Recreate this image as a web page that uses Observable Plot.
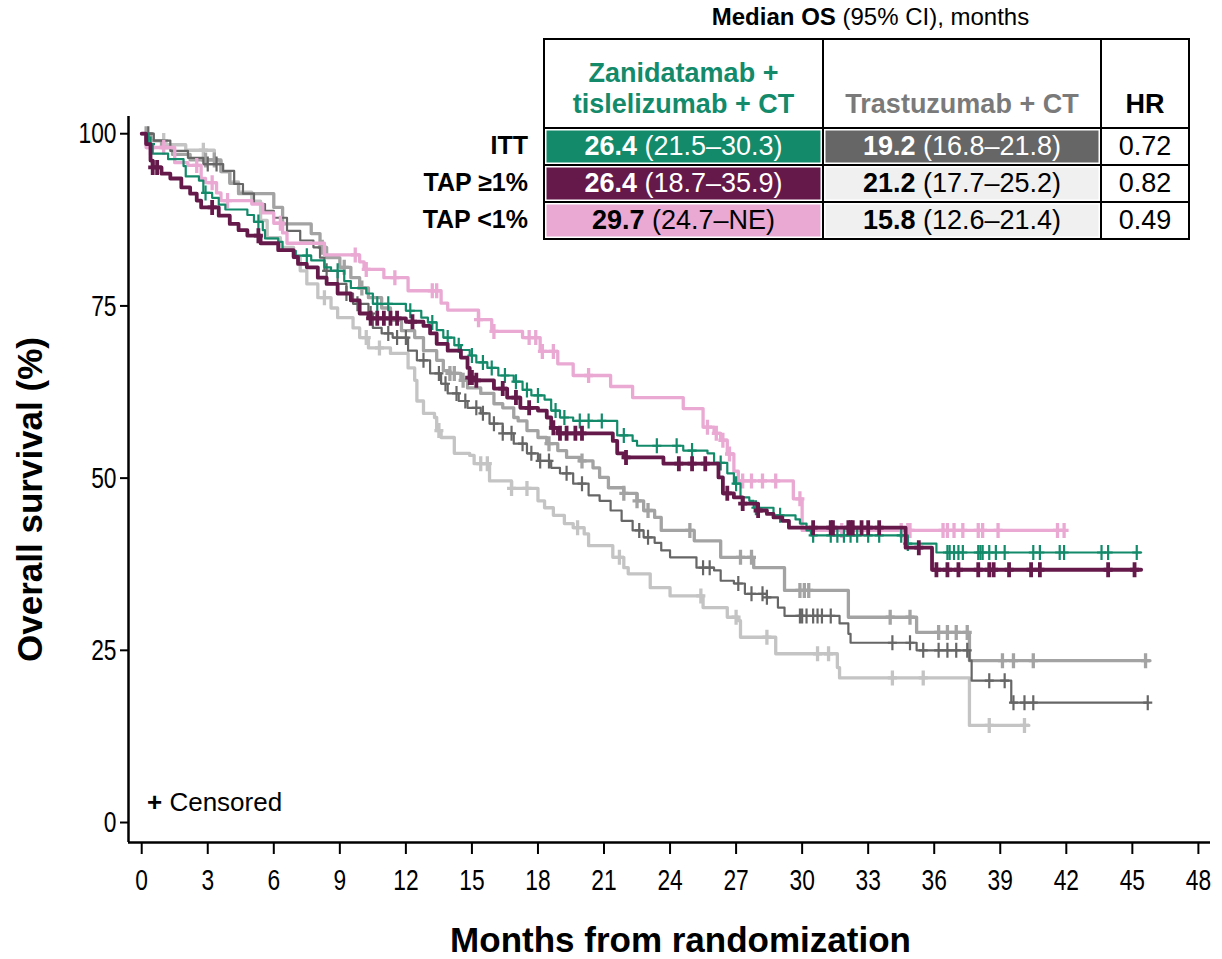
<!DOCTYPE html>
<html><head><meta charset="utf-8">
<script src="https://cdn.jsdelivr.net/npm/d3@7"></script>
<script src="https://cdn.jsdelivr.net/npm/@observablehq/plot@0.6"></script>
<style>
body{margin:0;background:#fff;}
#wrap{position:relative;width:1222px;height:959px;font-family:"Liberation Sans",Arial,sans-serif;color:#000;}
#wrap svg{position:absolute;left:0;top:0;}
.ov{position:absolute;white-space:nowrap;}
table.os{position:absolute;left:543px;top:38px;border-collapse:collapse;font-size:27px;}
table.os td{border:2px solid #000;text-align:center;padding:0;}
table.os td.c{box-shadow:inset 0 0 0 1.5px #fff;}
.rl{position:absolute;right:calc(1222px - 528px);font-weight:bold;font-size:25px;line-height:37px;}
</style></head><body><div id="wrap"></div>
<script>
// ---------- data (months, overall survival %) ----------
const zanITT = [[0,100],[0.3,98.5],[0.5,97.1],[1.2,96.3],[1.9,95.3],[2.0,93.8],[2.6,93.2],[2.8,91.4],[3.2,90.7],[3.5,89.7],[3.8,89.0],[4.8,88.2],[5.1,87.2],[5.5,86.0],[5.6,84.8],[6.2,84.3],[6.4,83.0],[7.0,82.3],[7.7,81.6],[8.3,80.6],[8.6,80.1],[9.2,78.6],[9.5,77.6],[10.2,76.8],[10.5,75.3],[12.0,74.3],[12.7,73.3],[13.0,72.6],[13.4,71.5],[13.7,70.4],[14.2,69.3],[14.5,68.6],[14.9,67.8],[15.2,66.8],[15.7,66.0],[16.2,64.9],[16.9,64.0],[17.3,62.8],[17.7,62.0],[18.3,61.4],[18.6,59.8],[19.0,58.8],[19.6,58.3],[21.6,56.2],[22.3,55.4],[22.5,54.7],[24.6,54.0],[25.7,53.6],[26.0,52.2],[26.6,50.7],[26.9,49.2],[27.2,47.2],[27.6,46.7],[27.8,45.7],[28.7,44.6],[29.7,44.0],[29.9,43.4],[30.2,42.4],[30.4,41.7],[34.8,40.5],[36.1,39.2],[45.4,39.2]];
const zanITT_c = [0.4,2.9,5.3,7.5,8.9,10.7,11.2,12.2,13.2,13.9,14.4,15.0,15.5,15.9,16.5,17.0,17.5,18.0,18.8,19.2,19.9,20.3,20.9,21.9,23.4,24.3,25.0,26.3,27.0,27.9,29.0,30.5,31.3,31.6,31.9,32.2,32.5,33.0,33.5,34.5,34.8,36.6,36.7,36.9,37.1,37.3,38.0,38.1,38.2,38.5,38.8,39.2,40.5,40.8,41.7,41.9,43.6,43.9,45.2];

const zanTAP1 = [[0,100],[0.2,98.5],[0.4,96.1],[0.5,95.1],[0.9,94.2],[1.3,93.5],[1.8,92.2],[2.2,91.3],[2.5,90.3],[2.7,89.3],[3.5,88.1],[4.0,86.9],[4.4,86.0],[4.8,85.2],[5.4,84.1],[6.2,83.1],[6.9,82.1],[7.1,81.1],[7.5,80.6],[8.0,79.1],[8.4,78.2],[8.9,76.8],[9.5,75.8],[9.9,73.9],[10.3,73.2],[12.0,72.7],[12.8,72.1],[13.1,71.0],[13.4,69.5],[13.9,68.5],[14.5,67.5],[14.8,66.0],[14.9,64.6],[15.1,64.2],[16.0,63.0],[16.6,61.7],[17.2,60.2],[18.0,59.8],[18.4,58.8],[18.6,57.3],[18.9,56.5],[21.4,55.4],[21.6,53.6],[21.9,53.0],[23.7,52.1],[26.2,50.1],[26.4,47.8],[26.9,47.2],[27.3,46.3],[28.0,45.3],[28.4,44.8],[28.7,44.3],[29.1,43.8],[29.4,42.8],[34.7,39.9],[35.9,36.7],[45.4,36.7]];
const zanTAP1_c = [0.5,0.7,3.2,5.3,10.4,10.7,11.0,11.3,11.6,12.3,14.9,15.0,15.2,16.4,17.0,17.6,18.7,19.0,19.3,19.7,20.0,22.0,24.4,25.0,25.6,26.6,27.3,28.0,30.5,31.3,31.4,32.1,32.2,32.3,32.7,33.0,33.5,35.3,36.1,36.6,37.1,38.0,38.5,38.7,39.4,40.4,40.8,43.9,45.1];

const zanTAP0 = [[0,100],[0.2,98.0],[1.5,95.8],[2.1,95.4],[2.7,93.5],[2.9,92.9],[3.4,91.4],[3.6,90.3],[5.0,89.8],[5.5,88.5],[6.0,87.0],[6.4,85.6],[6.6,84.1],[8.3,82.4],[9.9,81.4],[10.1,80.3],[11.0,79.1],[12.1,77.2],[13.6,75.4],[13.9,74.4],[15.3,73.0],[15.9,71.3],[17.3,70.4],[18.1,68.4],[18.9,66.6],[19.6,64.9],[21.3,63.3],[22.3,61.7],[24.6,60.1],[25.5,57.4],[26.0,56.5],[26.3,55.5],[26.6,53.5],[26.9,51.0],[27.1,49.6],[29.6,47.0],[30.0,42.4],[41.9,42.4]];
const zanTAP0_c = [0.4,1.0,2.5,3.2,3.9,6.3,9.7,10.2,11.5,13.2,13.4,15.3,16.0,17.6,17.9,18.2,18.7,20.3,25.7,26.1,26.4,26.7,27.3,27.7,28.2,28.8,29.9,31.8,34.5,34.8,34.9,36.4,36.6,36.9,37.3,38.0,38.2,38.9,41.6,41.9];

const trasITT = [[0,100],[0.55,99.0],[1.3,97.5],[2.1,96.5],[2.8,95.6],[3.7,94.6],[4.2,92.7],[4.6,91.3],[5.1,89.8],[5.6,88.8],[6.0,87.8],[6.6,85.9],[7.2,84.5],[7.8,83.5],[8.1,82.0],[8.3,80.1],[8.9,78.2],[9.3,76.8],[9.6,75.3],[10.3,73.9],[10.5,71.8],[10.9,71.0],[11.4,70.4],[12.1,68.5],[12.5,67.1],[13.1,65.2],[13.6,63.7],[13.9,62.3],[14.4,61.2],[14.8,60.2],[15.4,59.4],[15.8,57.9],[16.4,56.5],[16.9,55.0],[17.5,53.6],[18.0,52.5],[18.6,51.5],[19.0,50.7],[19.6,49.2],[20.3,47.5],[20.8,46.7],[21.3,45.3],[21.8,43.8],[22.3,42.4],[22.8,41.4],[23.3,40.6],[23.6,39.5],[24.0,38.5],[25.2,37.0],[26.0,36.6],[26.3,35.1],[26.9,34.7],[27.4,33.2],[28.4,32.7],[28.9,31.2],[29.2,30.0],[31.7,28.9],[32.1,27.4],[32.2,26.1],[35.2,25.0],[37.6,23.5],[37.7,20.6],[39.5,17.4],[45.7,17.4]];
const trasITT_c = [0.3,3.0,3.4,8.4,9.3,9.8,10.4,11.2,11.6,12.0,12.8,13.5,13.8,14.3,14.7,15.2,15.5,16.0,16.4,16.8,17.3,17.7,18.1,18.5,19.3,20.0,22.6,23.0,25.5,25.8,27.1,27.7,28.2,28.4,29.9,30.0,30.2,30.5,30.7,30.9,31.3,34.1,34.9,35.5,36.2,36.6,37.0,37.5,38.5,39.2,39.6,40.1,40.5,45.7];

const trasTAP1 = [[0,100],[0.4,99.0],[0.9,98.0],[1.4,97.0],[2.2,96.2],[3.6,94.5],[4.0,92.8],[4.4,91.3],[6.0,89.3],[6.4,86.9],[7.7,85.5],[8.1,83.5],[8.4,82.0],[9.0,80.6],[9.5,79.1],[9.9,77.6],[10.3,76.2],[10.9,74.7],[11.3,72.9],[11.8,71.4],[12.4,70.4],[12.8,68.5],[13.4,67.1],[13.7,65.6],[14.0,65.2],[14.5,64.2],[14.8,63.1],[15.4,62.3],[16.0,60.8],[16.4,60.2],[16.9,58.8],[17.1,58.3],[17.5,56.9],[18.0,55.9],[18.4,55.0],[18.9,54.0],[19.3,53.0],[19.9,52.5],[20.5,51.5],[20.8,50.1],[21.2,48.6],[21.9,47.8],[22.5,46.7],[22.8,45.3],[23.3,44.3],[23.6,42.4],[25.1,40.9],[26.3,38.5],[27.8,37.0],[29.2,33.7],[32.1,29.8],[35.2,27.6],[37.6,23.5],[45.8,23.5]];
const trasTAP1_c = [0.2,2.9,3.3,8.2,9.2,10.0,14.0,14.2,14.6,18.5,20.0,21.9,22.5,23.0,24.9,27.2,27.7,29.9,30.1,30.3,34.0,34.9,36.2,36.6,37.0,37.5,39.1,39.6,40.5,45.6];

const trasTAP0 = [[0,100],[0.5,99.0],[1.1,98.4],[2.0,97.6],[3.3,96.0],[3.6,94.5],[4.0,93.0],[4.4,91.5],[5.0,90.2],[5.4,87.4],[5.7,84.9],[6.3,83.5],[6.9,82.0],[7.2,80.1],[7.5,78.2],[8.0,76.2],[8.6,74.7],[8.9,73.3],[9.6,71.8],[9.9,70.4],[10.3,68.9],[11.3,68.1],[12.1,66.0],[12.4,64.2],[12.5,61.2],[12.8,59.4],[13.3,58.8],[13.4,56.9],[13.6,55.9],[14.2,53.6],[14.9,53.3],[15.1,52.1],[15.8,49.6],[16.8,48.5],[18.0,46.7],[18.3,45.7],[18.7,44.6],[19.2,43.4],[19.6,42.8],[20.1,41.9],[20.3,40.2],[21.4,38.5],[21.9,37.0],[22.1,36.1],[23.1,34.1],[24.0,32.9],[25.5,31.2],[26.6,29.8],[27.1,29.3],[27.2,26.9],[28.8,24.5],[31.6,22.5],[31.7,21.0],[37.6,14.1],[40.3,14.1]];
const trasTAP0_c = [1.0,2.8,8.3,10.2,10.8,13.5,15.4,15.7,16.8,17.5,19.8,21.7,25.4,27.0,28.4,30.7,31.2,34.1,35.5,38.5,40.1];

const xTicks = [0,3,6,9,12,15,18,21,24,27,30,33,36,39,42,45,48];
const yTicks = [0,25,50,75,100];

const groups = ["ITT","TAP ≥1%","TAP <1%"];
const zanMedian = ["26.4","26.4","29.7"], zanCI = ["(21.5–30.3)","(18.7–35.9)","(24.7–NE)"];
const trasMedian = ["19.2","21.2","15.8"], trasCI = ["(16.8–21.8)","(17.7–25.2)","(12.6–21.4)"];
const hr = ["0.72","0.82","0.49"];

// ---------- drawing ----------
const C = {green:"#138a6a", purple:"#65194b", pink:"#e9a9d3", dgrey:"#666666", mgrey:"#a3a3a3", lgrey:"#c4c4c4"};
const series = [
  {steps:trasTAP0, cens:trasTAP0_c, color:C.lgrey, w:3.3},
  {steps:trasTAP1, cens:trasTAP1_c, color:C.mgrey, w:3.3},
  {steps:trasITT,  cens:trasITT_c,  color:C.dgrey, w:2.2},
  {steps:zanTAP0,  cens:zanTAP0_c,  color:C.pink,  w:3.3},
  {steps:zanITT,   cens:zanITT_c,   color:C.green, w:2.2},
  {steps:zanTAP1,  cens:zanTAP1_c,  color:C.purple,w:3.8}
];
function survAt(steps, t){ let s = steps[0][1]; for (const [tt, ss] of steps){ if (tt <= t) s = ss; else break; } return s; }
const plusSym = {draw(ctx, size){ const r = Math.sqrt(size/Math.PI); ctx.moveTo(0,-r); ctx.lineTo(0,r); ctx.moveTo(-r*0.6,0); ctx.lineTo(r*0.6,0); }};

const X0 = -0.6, X1 = 48.55, Y0 = -2.9, Y1 = 102.5;
const marks = [];
for (const sr of series){
  marks.push(Plot.line(sr.steps.map(([t,s]) => ({t, s})), {x:"t", y:"s", curve:"step-after", stroke:sr.color, strokeWidth:sr.w}));
  marks.push(Plot.dot(sr.cens.map(t => ({t, s: survAt(sr.steps, t)})), {x:"t", y:"s", symbol:plusSym, r:7.5, stroke:sr.color, strokeWidth:sr.w, fill:"none"}));
}
marks.push(Plot.ruleX([X0], {y1:Y0, y2:Y1, stroke:"#000", strokeWidth:2.5}));
marks.push(Plot.ruleY([Y0], {x1:X0, x2:X1, stroke:"#000", strokeWidth:2.5}));
marks.push(Plot.axisX({ticks:xTicks, tickSize:12, tickPadding:14, strokeWidth:2, fontSize:30, label:null, tickFormat:d=>String(d)}));
marks.push(Plot.axisY({ticks:yTicks, tickSize:8, tickPadding:4, strokeWidth:2, fontSize:30, label:null, tickFormat:d=>String(d)}));
marks.push(Plot.text(["Months from randomization"], {frameAnchor:"bottom", textAnchor:"middle", lineAnchor:"middle", dx:11, dy:98, fontSize:35, fontWeight:"bold"}));
marks.push(Plot.text(["Overall survival (%)"], {frameAnchor:"left", textAnchor:"middle", lineAnchor:"middle", rotate:-90, dx:-98, dy:20, fontSize:35, fontWeight:"bold"}));

const chart = Plot.plot({
  width:1222, height:959,
  marginLeft:128, marginRight:12, marginTop:116, marginBottom:117,
  x:{domain:[X0,X1]}, y:{domain:[Y0,Y1]},
  style:{fontFamily:'"Liberation Sans", Arial, sans-serif', color:"#000", background:"#fff", overflow:"visible"},
  marks
});
// condense tick labels horizontally (narrow face in the original)
chart.querySelectorAll("text").forEach(t => {
  if (/^\d+$/.test(t.textContent.trim())) {
    t.setAttribute("transform", (t.getAttribute("transform") || "") + " scale(0.76,1)");
  }
});
const wrap = document.getElementById("wrap");
wrap.appendChild(chart);

// table + legend overlays
const colW = [279, 278, 88];
const zanBg = [C.green, C.purple, C.pink], zanFg = ["#fff","#fff","#000"];
const trasBg = ["#666666","#f0f0f0","#f0f0f0"], trasFg = ["#fff","#000","#000"];
let html = `<div class="ov" style="left:548px;width:645px;top:3px;text-align:center;font-size:24px;"><b>Median OS</b> (95% CI), months</div>`;
html += `<table class="os"><tr style="height:89px">
<td style="width:${colW[0]-2}px;color:${C.green};font-weight:bold;line-height:31px;vertical-align:bottom;padding-bottom:7px;">Zanidatamab +<br>tislelizumab + CT</td>
<td style="width:${colW[1]-2}px;color:#7a7a7a;font-weight:bold;vertical-align:bottom;padding-bottom:7px;line-height:31px;">Trastuzumab + CT</td>
<td style="width:${colW[2]-2}px;font-weight:bold;vertical-align:bottom;padding-bottom:7px;line-height:31px;">HR</td></tr>`;
groups.forEach((g,i) => {
  html += `<tr style="height:37px">
<td class="c" style="background:${zanBg[i]};color:${zanFg[i]}"><b>${zanMedian[i]}</b> ${zanCI[i]}</td>
<td class="c" style="background:${trasBg[i]};color:${trasFg[i]}"><b>${trasMedian[i]}</b> ${trasCI[i]}</td>
<td>${hr[i]}</td></tr>`;
});
html += `</table>`;
groups.forEach((g,i) => { html += `<div class="ov rl" style="top:${127 + i*37}px">${g}</div>`; });
html += `<div class="ov" style="left:147px;top:787px;font-size:26px;"><b>+</b> Censored</div>`;
wrap.insertAdjacentHTML("beforeend", html);
</script></body></html>
